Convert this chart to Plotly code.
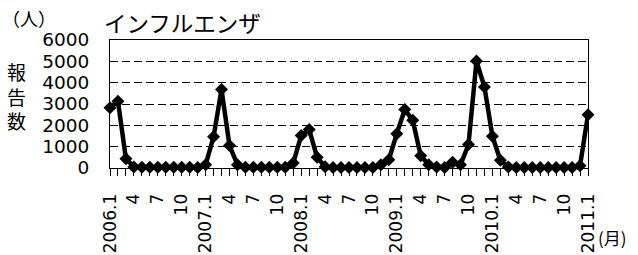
import plotly.graph_objects as go

months = [f"{y}.{m}" for y in range(2006, 2011) for m in range(1, 13)] + ["2011.1"]
values = [
    2830, 3130, 430, 50, 40, 30, 30, 30, 30, 30, 30, 20,      # 2006
    150, 1460, 3680, 1050, 150, 30, 30, 30, 30, 30, 30, 240,  # 2007
    1520, 1800, 500, 60, 20, 20, 20, 20, 20, 20, 150, 390,    # 2008
    1610, 2740, 2240, 580, 150, 50, 20, 265, 150, 1100, 5010, 3800,  # 2009
    1490, 360, 50, 20, 20, 20, 20, 20, 20, 20, 20, 100,       # 2010
    2500,                                                     # 2011.1
]
tick_idx = list(range(0, 61, 3))
tick_text = [months[i] if months[i].endswith(".1") else months[i].split(".")[1] for i in tick_idx]
y_ticks = [0, 1000, 2000, 3000, 4000, 5000, 6000]

x = list(range(len(values)))

fig = go.Figure()
fig.add_trace(go.Scatter(
    x=x, y=values, mode="lines+markers",
    line=dict(color="black", width=4.5),
    marker=dict(symbol="diamond", size=10, color="black"),
    cliponaxis=False, hoverinfo="skip",
))

num_font = "DejaVu Sans, sans-serif"
jp_font = "Noto Sans CJK JP, sans-serif"

fig.update_layout(
    width=638, height=255,
    margin=dict(l=110, r=50, t=40, b=87, autoexpand=False),
    paper_bgcolor="white", plot_bgcolor="white",
    showlegend=False,
    xaxis=dict(
        range=[0, 60], tickmode="array", tickvals=tick_idx, ticktext=tick_text,
        tickangle=-90, tickfont=dict(family=num_font, size=17, color="black"),
        ticks="outside", ticklen=7, tickcolor="black", tickwidth=1,
        minor=dict(ticks="outside", dtick=1, ticklen=7, tickcolor="black", tickwidth=1, showgrid=False),
        showgrid=False, showline=True, linecolor="black", linewidth=1, mirror=True,
        zeroline=False, ticklabelstandoff=11, automargin=False,
    ),
    yaxis=dict(
        range=[0, 6000], tickvals=y_ticks, ticktext=[str(v) for v in y_ticks],
        tickfont=dict(family=num_font, size=18.5, color="black"),
        ticks="outside", ticklen=16, tickcolor="rgba(0,0,0,0)",
        showgrid=True, gridcolor="black", gridwidth=1, griddash="8px,4px",
        showline=True, linecolor="black", linewidth=1, mirror=True,
        zeroline=False, automargin=False,
    ),
)

fig.add_annotation(text="インフルエンザ", xref="paper", yref="paper", x=-8/478, y=1.0,
                   xanchor="left", yanchor="bottom", showarrow=False,
                   font=dict(family=jp_font, size=22.5, color="black"))
fig.add_annotation(text="（人）", xref="paper", yref="paper", x=-110/478, y=1.0,
                   xanchor="left", yanchor="bottom", showarrow=False, yshift=7,
                   font=dict(family=jp_font, size=18, color="black"))
fig.add_annotation(text="報<br>告<br>数", xref="paper", yref="paper", x=-94/478, y=0.56,
                   xanchor="center", yanchor="middle", showarrow=False,
                   font=dict(family=jp_font, size=19, color="black"))
fig.add_annotation(text="(月)", xref="paper", yref="paper", x=1.0, y=0, yshift=-69,
                   xanchor="left", yanchor="middle", showarrow=False, xshift=8,
                   font=dict(family=jp_font, size=17, color="black"))

fig.write_html("out.html", post_script="document.body.style.margin='0';",
               config={"displayModeBar": False})
